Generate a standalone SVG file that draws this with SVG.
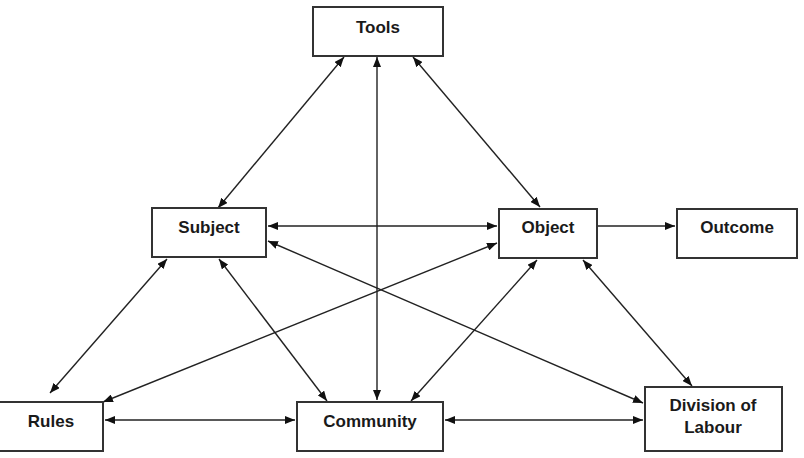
<svg xmlns="http://www.w3.org/2000/svg" width="804" height="458" viewBox="0 0 804 458">
<style>
.box{fill:#fff;stroke:#333;stroke-width:2}
.lbl{font-family:"Liberation Sans",Arial,sans-serif;font-weight:bold;font-size:17px;fill:#1a1a1a;text-anchor:middle}
.c{stroke:#222;stroke-width:1.4;fill:none;marker-end:url(#ah)}
.b{marker-start:url(#ah)}
</style>
<defs>
<marker id="ah" viewBox="0 0 10 8" refX="10" refY="4" markerWidth="10" markerHeight="8" markerUnits="userSpaceOnUse" orient="auto-start-reverse">
<path d="M0,0 L10,4 L0,8 z" fill="#111"/>
</marker>
</defs>
<rect width="804" height="458" fill="#fff"/>
<g id="connectors">
<line class="c b" x1="218" y1="208" x2="344" y2="57"/>
<line class="c b" x1="377" y1="400" x2="377" y2="57"/>
<line class="c b" x1="413" y1="57" x2="540" y2="207"/>
<line class="c b" x1="268" y1="226" x2="497" y2="226"/>
<line class="c" x1="598" y1="226" x2="675" y2="226"/>
<line class="c b" x1="268" y1="241" x2="643" y2="403"/>
<line class="c b" x1="497" y1="243" x2="103" y2="402"/>
<line class="c b" x1="167" y1="259" x2="50" y2="393"/>
<line class="c b" x1="219" y1="259" x2="327" y2="401"/>
<line class="c b" x1="537" y1="260" x2="411" y2="401"/>
<line class="c b" x1="583" y1="260" x2="692" y2="386"/>
<line class="c b" x1="105" y1="420" x2="295" y2="420"/>
<line class="c b" x1="445" y1="420" x2="643" y2="420"/>
</g>
<g id="tools"><rect class="box" x="313" y="7" width="130" height="49"/><text class="lbl" x="378" y="33">Tools</text></g>
<g id="subject"><rect class="box" x="152" y="208" width="114" height="49"/><text class="lbl" x="209" y="233">Subject</text></g>
<g id="object"><rect class="box" x="499" y="209" width="98" height="49"/><text class="lbl" x="548" y="233">Object</text></g>
<g id="outcome"><rect class="box" x="677" y="209" width="120" height="49"/><text class="lbl" x="737" y="233">Outcome</text></g>
<g id="rules"><rect class="box" x="-1" y="402" width="104" height="49"/><text class="lbl" x="51" y="427">Rules</text></g>
<g id="community"><rect class="box" x="297" y="402" width="146" height="49"/><text class="lbl" x="370" y="427">Community</text></g>
<g id="division"><rect class="box" x="645" y="387" width="137" height="64"/><text class="lbl" x="713" y="411">Division of</text><text class="lbl" x="713" y="433">Labour</text></g>
</svg>
